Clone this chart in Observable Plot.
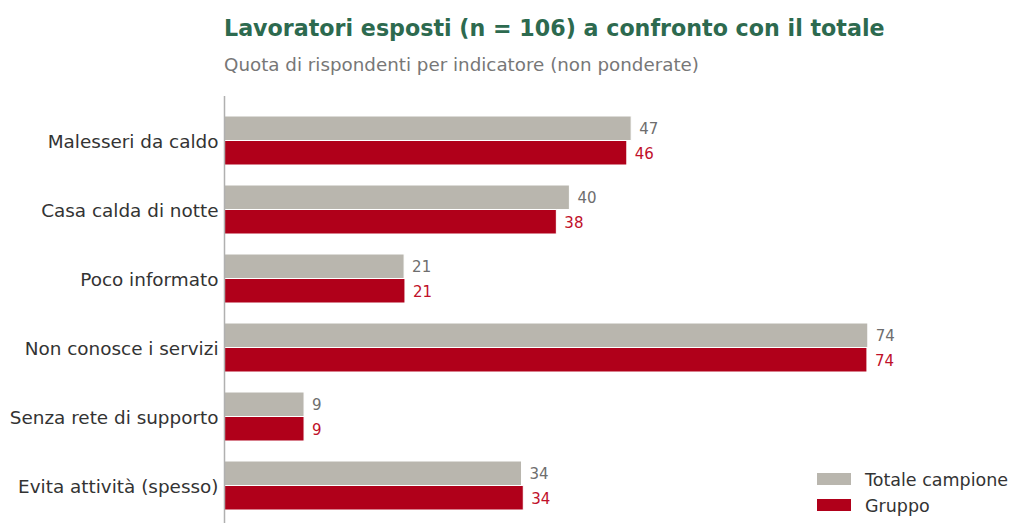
<!DOCTYPE html>
<html>
<head>
<meta charset="utf-8">
<script src="https://cdn.jsdelivr.net/npm/d3@7"></script>
<script src="https://cdn.jsdelivr.net/npm/@observablehq/plot@0.6"></script>
<style>
  html, body { margin: 0; padding: 0; background: #fff; }
  body { width: 1009px; height: 523px; position: relative; overflow: hidden; font-family: "DejaVu Sans", sans-serif; }
  #title { position: absolute; left: 224px; top: 16px; font-size: 22.2px; line-height: 24px; font-weight: bold; color: #2d6a4f; white-space: nowrap; }
  #subtitle { position: absolute; left: 224px; top: 55px; font-size: 18.3px; line-height: 20px; color: #777; white-space: nowrap; }
  #chart { position: absolute; left: 0; top: 96px; }
  .leg { position: absolute; left: 817px; width: 34px; height: 12px; }
  .legt { position: absolute; left: 865px; font-size: 17.5px; line-height: 20px; color: #333; white-space: nowrap; }
</style>
</head>
<body>
<div id="title">Lavoratori esposti (n = 106) a confronto con il totale</div>
<div id="subtitle">Quota di rispondenti per indicatore (non ponderate)</div>
<div id="chart"></div>
<div class="leg" id="sw1" style="top:473px;"></div>
<div class="legt" id="lt1" style="top:470px;"></div>
<div class="leg" id="sw2" style="top:499px;"></div>
<div class="legt" id="lt2" style="top:496px;"></div>
<script>
const categories = ["Malesseri da caldo", "Casa calda di notte", "Poco informato", "Non conosce i servizi", "Senza rete di supporto", "Evita attività (spesso)"];
const totale = [46.8, 39.7, 20.7, 74.0, 9.2, 34.2];
const gruppo = [46.3, 38.2, 20.8, 73.9, 9.2, 34.4];
const seriesNames = ["Totale campione", "Gruppo"];
const seriesColors = ["#b9b6ae", "#b0001a"];
const labelColors = ["#6e6e6e", "#c0102a"];

const dataT = categories.map((c, i) => ({cat: c, value: totale[i]}));
const dataG = categories.map((c, i) => ({cat: c, value: gruppo[i]}));
const fmt = d => d3.format(".0f")(d.value);

const chart = Plot.plot({
  width: 1009,
  height: 427,
  marginLeft: 224,
  marginRight: 89,
  marginTop: 0,
  marginBottom: 0,
  style: {fontFamily: "DejaVu Sans, sans-serif", fontSize: "18.4px", color: "#333", background: "transparent"},
  x: {domain: [0, 80], axis: null},
  y: {domain: categories, range: [20, 414], paddingInner: 0.29, paddingOuter: 0, axis: null},
  marks: [
    Plot.barX(dataT, {x: "value", y: "cat", fill: seriesColors[0], stroke: "white", strokeWidth: 1, insetBottom: 24.5}),
    Plot.barX(dataG, {x: "value", y: "cat", fill: seriesColors[1], stroke: "white", strokeWidth: 1, insetTop: 24.5}),
    Plot.axisY({tickSize: 0, tickPadding: 6, label: null, dy: 1.5}),
    Plot.text(dataT, {x: "value", y: "cat", text: fmt, dx: 7.5, dy: -11.5, textAnchor: "start", fill: labelColors[0], fontSize: 15}),
    Plot.text(dataG, {x: "value", y: "cat", text: fmt, dx: 7.5, dy: 13.5, textAnchor: "start", fill: labelColors[1], fontSize: 15}),
    Plot.ruleX([0], {stroke: "#b0b0b0", strokeWidth: 1.5})
  ]
});
document.getElementById("chart").appendChild(chart);
document.getElementById("sw1").style.background = seriesColors[0];
document.getElementById("sw2").style.background = seriesColors[1];
document.getElementById("lt1").textContent = seriesNames[0];
document.getElementById("lt2").textContent = seriesNames[1];
</script>
</body>
</html>
